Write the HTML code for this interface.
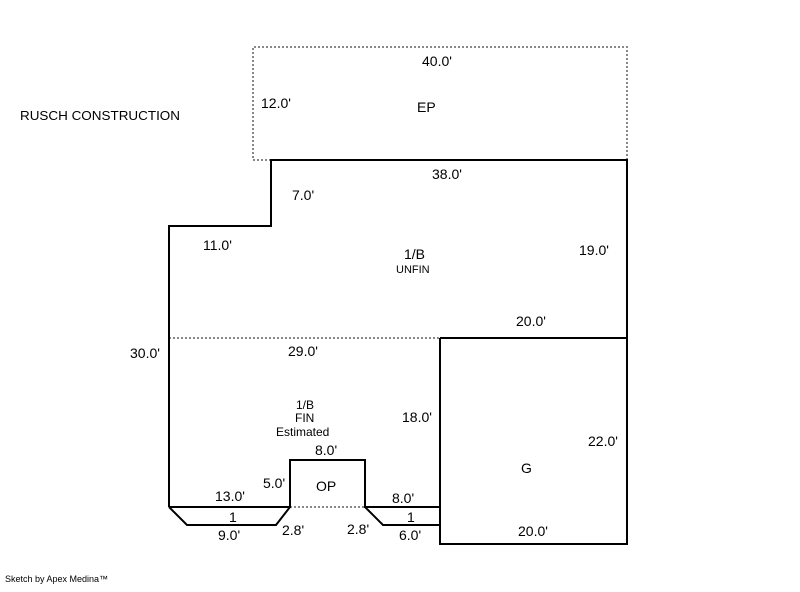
<!DOCTYPE html>
<html><head><style>
html,body{margin:0;padding:0;background:#fff;}
svg text{font-family:"Liberation Sans",Arial,sans-serif;fill:#000;}
</style></head><body>
<svg width="800" height="587" xmlns="http://www.w3.org/2000/svg">
<g fill="none" stroke="#888" stroke-width="2" stroke-dasharray="2,2">
<polyline points="271,160 253,160 253,47 627,47 627,160"/>
<line x1="169" y1="338" x2="440" y2="338"/>
<line x1="290" y1="507" x2="365" y2="507"/>
</g>
<g fill="none" stroke="#000" stroke-width="2">
<polyline points="169,507 169,226 271,226 271,160 627,160 627,544 440,544 440,338"/>
<line x1="440" y1="338" x2="627" y2="338"/>
<line x1="440" y1="338" x2="440" y2="544"/>
<polyline points="169,507 290,507 290,460 365,460 365,507 440,507"/>
<polyline points="169,507 187,525 276,525 290,507"/>
<polyline points="365,507 383,525 440,525"/>
</g>
<g font-size="14">
<text x="20" y="120" font-size="13" textLength="160" lengthAdjust="spacingAndGlyphs">RUSCH CONSTRUCTION</text>
<text x="422" y="66">40.0'</text>
<text x="261" y="108">12.0'</text>
<text x="417" y="112">EP</text>
<text x="432" y="179">38.0'</text>
<text x="292" y="200">7.0'</text>
<text x="203" y="250">11.0'</text>
<text x="404" y="259">1/B</text>
<text x="396" y="273" font-size="11">UNFIN</text>
<text x="579" y="255">19.0'</text>
<text x="516" y="326">20.0'</text>
<text x="130" y="358">30.0'</text>
<text x="288" y="356">29.0'</text>
<text x="296" y="409" font-size="12">1/B</text>
<text x="295" y="422" font-size="12">FIN</text>
<text x="276" y="436" font-size="12">Estimated</text>
<text x="402" y="422">18.0'</text>
<text x="588" y="446">22.0'</text>
<text x="315" y="455">8.0'</text>
<text x="263" y="488">5.0'</text>
<text x="316" y="491">OP</text>
<text x="521" y="473">G</text>
<text x="215" y="501">13.0'</text>
<text x="392" y="503">8.0'</text>
<text x="229" y="522">1</text>
<text x="407" y="522">1</text>
<text x="218" y="540">9.0'</text>
<text x="282" y="535">2.8'</text>
<text x="347" y="534">2.8'</text>
<text x="399" y="540">6.0'</text>
<text x="518" y="536">20.0'</text>
<text x="5" y="582" font-size="9">Sketch by Apex Medina™</text>
</g>
</svg>
</body></html>
